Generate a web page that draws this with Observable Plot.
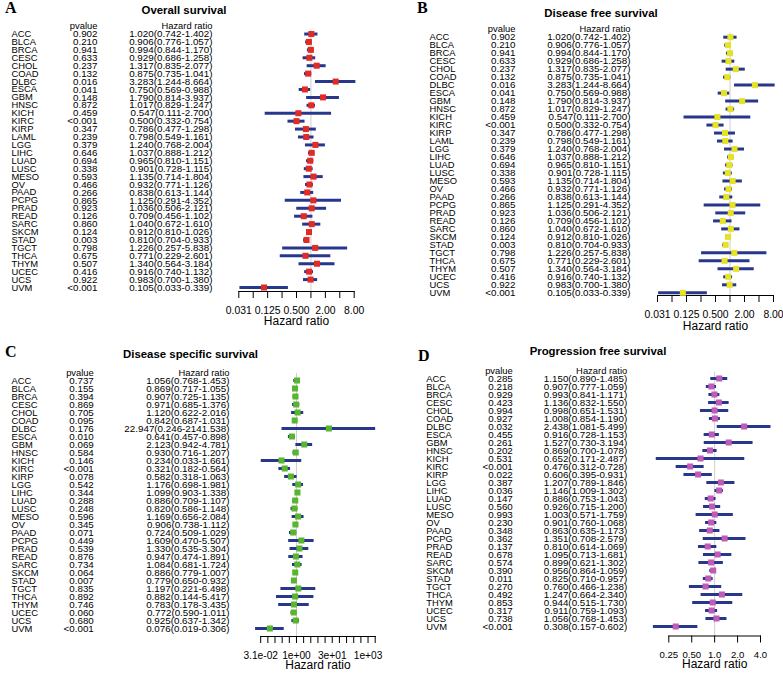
<!DOCTYPE html>
<html><head><meta charset="utf-8">
<script src="https://cdn.jsdelivr.net/npm/d3@7"></script>
<script src="https://cdn.jsdelivr.net/npm/@observablehq/plot@0.6"></script>
<style>
body{margin:0;background:#fff;}
#root{position:relative;width:783px;height:675px;font-family:"Liberation Sans",Arial,sans-serif;color:#000;overflow:hidden;}
.letter{position:absolute;font-family:"Liberation Serif","Times New Roman",serif;font-weight:bold;font-size:16px;line-height:16px;}
.title{position:absolute;font-weight:bold;font-size:11.4px;line-height:14px;transform:translate(-50%,-50%);white-space:nowrap;}
</style></head><body><div id="root"></div>
<script>
// ---------- Panel A: Overall survival ----------
const osCancers = ["ACC","BLCA","BRCA","CESC","CHOL","COAD","DLBC","ESCA","GBM","HNSC","KICH","KIRC","KIRP","LAML","LGG","LIHC","LUAD","LUSC","MESO","OV","PAAD","PCPG","PRAD","READ","SARC","SKCM","STAD","TGCT","THCA","THYM","UCEC","UCS","UVM"];
const osP = ["0.902","0.210","0.941","0.633","0.237","0.132","0.016","0.041","0.148","0.872","0.459","<0.001","0.347","0.239","0.379","0.646","0.694","0.338","0.593","0.466","0.266","0.865","0.923","0.126","0.860","0.124","0.003","0.798","0.675","0.507","0.416","0.922","<0.001"];
const osHR   = [1.020,0.906,0.994,0.929,1.317,0.875,3.283,0.750,1.790,1.017,0.547,0.500,0.786,0.798,1.240,1.037,0.965,0.901,1.135,0.932,0.838,1.125,1.036,0.709,1.040,0.912,0.810,1.226,0.771,1.340,0.916,0.983,0.105];
const osLow  = [0.742,0.776,0.844,0.686,0.835,0.735,1.244,0.569,0.814,0.829,0.111,0.332,0.477,0.549,0.768,0.888,0.810,0.728,0.714,0.771,0.613,0.291,0.506,0.456,0.672,0.810,0.704,0.257,0.229,0.564,0.740,0.700,0.033];
const osHigh = [1.402,1.057,1.170,1.258,2.077,1.041,8.664,0.988,3.937,1.247,2.700,0.754,1.298,1.161,2.004,1.212,1.151,1.115,1.804,1.126,1.144,4.352,2.121,1.102,1.610,1.026,0.933,5.838,2.601,3.184,1.132,1.380,0.339];
const osTicks = [0.03125,0.0625,0.125,0.25,0.5,1,2,4,8];
const osTickLabels = ["0.031","","0.125","","0.500","","2.00","","8.00"];

// ---------- Panel B: Disease free survival (the reference repeats panel A's values) ----------
const dfsCancers = osCancers;
const dfsP = osP;
const dfsHR = osHR;
const dfsLow = osLow;
const dfsHigh = osHigh;
const dfsTicks = osTicks;
const dfsTickLabels = osTickLabels;

// ---------- Panel C: Disease specific survival ----------
const dssCancers = ["ACC","BLCA","BRCA","CESC","CHOL","COAD","DLBC","ESCA","GBM","HNSC","KICH","KIRC","KIRP","LGG","LIHC","LUAD","LUSC","MESO","OV","PAAD","PCPG","PRAD","READ","SARC","SKCM","STAD","TGCT","THCA","THYM","UCEC","UCS","UVM"];
const dssP = ["0.737","0.155","0.394","0.869","0.705","0.095","0.176","0.010","0.069","0.584","0.146","<0.001","0.078","0.542","0.344","0.288","0.248","0.596","0.345","0.071","0.449","0.539","0.876","0.734","0.064","0.007","0.835","0.892","0.746","0.060","0.680","<0.001"];
const dssHR   = [1.056,0.869,0.907,0.971,1.120,0.842,22.947,0.641,2.123,0.930,0.234,0.321,0.582,1.176,1.099,0.886,0.820,1.169,0.906,0.724,1.609,1.330,0.947,1.084,0.886,0.779,1.197,0.882,0.783,0.772,0.925,0.076];
const dssLow  = [0.768,0.717,0.725,0.685,0.622,0.687,0.246,0.457,0.942,0.716,0.033,0.182,0.318,0.698,0.903,0.709,0.586,0.656,0.738,0.509,0.470,0.535,0.474,0.681,0.779,0.650,0.221,0.144,0.178,0.590,0.637,0.019];
const dssHigh = [1.453,1.055,1.135,1.376,2.016,1.031,2141.538,0.898,4.781,1.207,1.661,0.564,1.063,1.981,1.338,1.107,1.148,2.084,1.112,1.029,5.507,3.304,1.891,1.724,1.007,0.932,6.498,5.417,3.435,1.011,1.342,0.306];
const dssTicks = [0.03125,0.0625,0.125,0.25,0.5,1,2,4,8,16,32,64,128,256,512,1024,2048];
const dssTickLabels = ["3.1e-02","","","","","1e+00","","","","","3e+01","","","","","1e+03",""];

// ---------- Panel D: Progression free survival ----------
const pfsCancers = dssCancers;
const pfsP = ["0.285","0.218","0.929","0.423","0.994","0.927","0.032","0.455","0.261","0.202","0.531","<0.001","0.022","0.387","0.036","0.147","0.560","0.993","0.230","0.348","0.362","0.137","0.678","0.574","0.390","0.011","0.270","0.492","0.853","0.317","0.738","<0.001"];
const pfsHR   = [1.150,0.907,0.993,1.136,0.998,1.008,2.438,0.916,1.527,0.869,0.652,0.476,0.606,1.207,1.146,0.886,0.926,1.003,0.901,0.863,1.351,0.810,1.095,0.899,0.956,0.825,0.760,1.247,0.944,0.911,1.056,0.308];
const pfsLow  = [0.890,0.777,0.841,0.832,0.651,0.854,1.081,0.728,0.730,0.700,0.171,0.312,0.395,0.789,1.009,0.753,0.715,0.571,0.760,0.635,0.708,0.614,0.713,0.621,0.864,0.710,0.466,0.664,0.515,0.759,0.768,0.157];
const pfsHigh = [1.485,1.059,1.171,1.550,1.531,1.190,5.499,1.153,3.194,1.078,2.487,0.728,0.931,1.846,1.302,1.043,1.200,1.759,1.068,1.173,2.579,1.069,1.681,1.302,1.059,0.957,1.238,2.340,1.730,1.093,1.453,0.602];
const pfsTicks = [0.25,0.5,1,2,4];
const pfsTickLabels = ["0.25","0.50","1.0","2.0","4.0"];

const NAVY = "#27378c";
const root = document.getElementById("root");

function addDiv(cls, text, x, y) {
  const d = document.createElement("div");
  d.className = cls; d.textContent = text;
  d.style.left = x + "px"; d.style.top = y + "px";
  root.appendChild(d);
}

// widen glyphs horizontally (the reference text is flattened) while keeping the anchor fixed
function stretch(svg, label, s) {
  svg.querySelectorAll(`g[aria-label='${label}'] text`).forEach(t => {
    const tr = t.getAttribute("transform") || "";
    const x = +(t.getAttribute("x") || 0), y = +(t.getAttribute("y") || 0);
    t.removeAttribute("x"); t.removeAttribute("y");
    t.setAttribute("transform", `${tr} translate(${x},${y}) scale(${s},1)`);
  });
}

function panel(c) {
  const rows = c.names.map((name, i) => ({
    name, p: c.p[i], hr: c.hr[i], lo: c.lo[i], hi: c.hi[i],
    txt: `${c.hr[i].toFixed(3)}(${c.lo[i].toFixed(3)}-${c.hi[i].toFixed(3)})`
  }));
  const labelMap = new Map(c.ticks.map((t, i) => [t, c.tickLabels[i]]));
  const fl = c.frameLeft;
  const svg = Plot.plot({
    width: c.width, height: c.height,
    marginLeft: c.frameLeft - c.left,
    marginRight: c.left + c.width - c.frameRight,
    marginTop: c.refTop - c.top,
    marginBottom: c.top + c.height - c.axisY,
    style: {fontFamily: "'Liberation Sans', Arial, sans-serif", background: "transparent", color: "#000", overflow: "visible"},
    x: {type: "log", base: 2, domain: [c.ticks[0], c.ticks[c.ticks.length - 1]]},
    y: {type: "point", padding: 0, domain: ["hdr", ...c.names], range: [c.headerY - c.top, c.lastY - c.top], axis: null},
    marks: [
      Plot.ruleX([1], {stroke: "#cfcfcf", strokeWidth: 1}),
      Plot.frame({anchor: "bottom", stroke: "#000", strokeWidth: 1}),
      Plot.ruleY(rows, {y: "name", x1: "lo", x2: "hi", stroke: NAVY, strokeWidth: 3}),
      Plot.dot(rows, {x: "hr", y: "name", symbol: "square", r: 3.4, fill: c.color, stroke: null}),
      Plot.text(rows, {y: "name", text: "name", frameAnchor: "left", dx: c.labelX - fl, textAnchor: "start", fontSize: 9.4, ariaLabel: "rowlabel"}),
      Plot.text(rows, {y: "name", text: "p", frameAnchor: "left", dx: c.pX - fl, textAnchor: "end", fontSize: 9.8, ariaLabel: "rownum"}),
      Plot.text(rows, {y: "name", text: "txt", frameAnchor: "left", dx: c.hrX - fl, textAnchor: "end", fontSize: 9.8, ariaLabel: "rownum"}),
      Plot.text([0], {y: () => "hdr", text: () => "pvalue", frameAnchor: "left", dx: c.pX - fl, textAnchor: "end", fontSize: 9.4, ariaLabel: "rowlabel"}),
      Plot.text([0], {y: () => "hdr", text: () => "Hazard ratio", frameAnchor: "left", dx: c.hrX - fl, textAnchor: "end", fontSize: 9.4, ariaLabel: "rowlabel"}),
      Plot.axisX({ticks: c.ticks, tickFormat: d => labelMap.get(d) ?? "", tickSize: 7, tickPadding: 8, fontSize: c.tickFont, label: null, anchor: "bottom"}),
      Plot.text(["Hazard ratio"], {text: d => d, frameAnchor: "bottom", dy: c.axisTitleY - c.axisY, fontSize: 12})
    ]
  });
  stretch(svg, "rownum", 1.1);
  stretch(svg, "rowlabel", 1.03);
  svg.style.position = "absolute";
  svg.style.left = c.left + "px";
  svg.style.top = c.top + "px";
  root.appendChild(svg);
  addDiv("letter", c.letter, c.letterX, c.letterY - 8);
  addDiv("title", c.title, c.titleX, c.titleY);
}

panel({letter: "A", title: "Overall survival", names: osCancers, p: osP, hr: osHR, lo: osLow, hi: osHigh,
  ticks: osTicks, tickLabels: osTickLabels, color: "#e22b25", tickFont: 10.4,
  left: 0, top: 0, width: 390, height: 335, frameLeft: 238.3, frameRight: 353.7,
  headerY: 25.6, lastY: 287, refTop: 29.5, axisY: 291, axisTitleY: 324,
  labelX: 11, pX: 97, hrX: 212, letterX: 5, letterY: 8, titleX: 184, titleY: 10});

panel({letter: "B", title: "Disease free survival", names: dfsCancers, p: dfsP, hr: dfsHR, lo: dfsLow, hi: dfsHigh,
  ticks: dfsTicks, tickLabels: dfsTickLabels, color: "#e6e228", tickFont: 10.4,
  left: 390, top: 0, width: 393, height: 335, frameLeft: 657, frameRight: 773,
  headerY: 28.7, lastY: 292.3, refTop: 32.5, axisY: 295, axisTitleY: 329,
  labelX: 429, pX: 515, hrX: 630, letterX: 417, letterY: 8, titleX: 601, titleY: 13});

panel({letter: "C", title: "Disease specific survival", names: dssCancers, p: dssP, hr: dssHR, lo: dssLow, hi: dssHigh,
  ticks: dssTicks, tickLabels: dssTickLabels, color: "#58b52e", tickFont: 10.2,
  left: 0, top: 335, width: 390, height: 340, frameLeft: 260.2, frameRight: 374.7,
  headerY: 368.5, lastY: 631, refTop: 373, axisY: 636, axisTitleY: 668.5,
  labelX: 11, pX: 93.3, hrX: 229, letterX: 5, letterY: 352, titleX: 190.5, titleY: 354});

panel({letter: "D", title: "Progression free survival", names: pfsCancers, p: pfsP, hr: pfsHR, lo: pfsLow, hi: pfsHigh,
  ticks: pfsTicks, tickLabels: pfsTickLabels, color: "#c15cb6", tickFont: 9.6,
  left: 390, top: 335, width: 393, height: 340, frameLeft: 668.3, frameRight: 760,
  headerY: 367.5, lastY: 629.3, refTop: 371.5, axisY: 635.5, axisTitleY: 667.5,
  labelX: 425.7, pX: 512.3, hrX: 626.7, letterX: 418, letterY: 356, titleX: 598, titleY: 351});
</script></body></html>
